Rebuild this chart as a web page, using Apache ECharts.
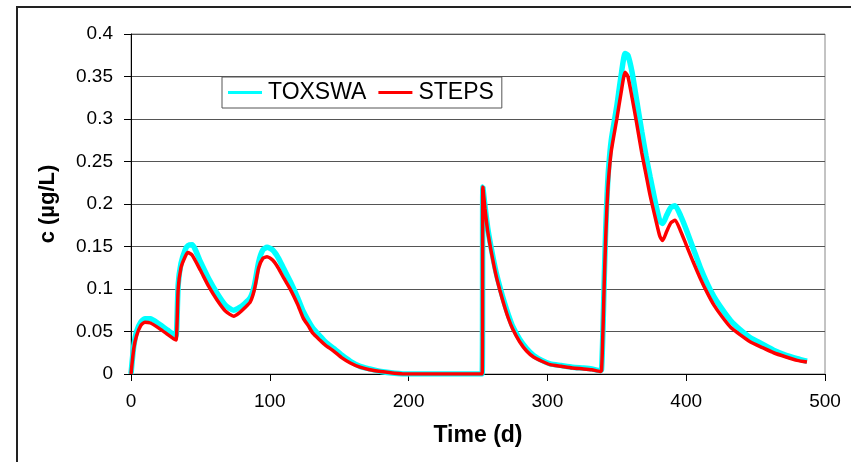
<!DOCTYPE html>
<html>
<head>
<meta charset="utf-8">
<script src="https://cdn.jsdelivr.net/npm/echarts@6/dist/echarts.min.js"></script>
<style>
html,body{margin:0;padding:0;background:#fff;}
#chart{width:851px;height:462px;}
</style>
</head>
<body>
<div id="chart"></div>
<script>
// Time (d)
const days = [
  0,2,4,7,10,14,20,26,31,32.5,
  34,36,39,41,44,50,56,62,68,74,
  78,82,86,89,92,95,98,102,106,110,
  115,120,124,128,131,136,140,146,152,158,
  165,172,180,190,200,220,240,253,253.5,255,
  257,260,263,266,269,272,275,280,285,290,
  296,302,
  310,318,326,332,338,339,340,341,342,343,
  344,346,350,353,356,358,361,364,368,371,
  374,378,381,383,386,389,392,396,400,405,
  410,415,420,426,432,439,446,455,463,472,
  480,487
];
// TOXSWA concentration (µg/L)
const toxswa = [
  0,0.033,0.050,0.061,0.065,0.065,0.059,0.052,0.046,0.045,
  0.105,0.130,0.146,0.151,0.152,0.132,0.112,0.095,0.081,0.075,
  0.078,0.083,0.090,0.105,0.132,0.146,0.149,0.146,0.137,0.124,
  0.108,0.090,0.074,0.062,0.054,0.045,0.038,0.030,0.022,0.015,
  0.009,0.006,0.003,0.001,0,0,0,0,0.220,0.198,
  0.172,0.144,0.120,0.101,0.084,0.069,0.056,0.041,0.030,0.022,
  0.016,0.012,
  0.010,0.008,0.007,0.006,0.004,0.005,0.050,0.115,0.170,0.210,
  0.240,0.275,0.315,0.350,0.377,0.375,0.355,0.325,0.285,0.257,
  0.232,0.200,0.180,0.177,0.187,0.196,0.198,0.186,0.170,0.148,
  0.126,0.107,0.091,0.076,0.063,0.052,0.043,0.035,0.028,0.022,
  0.018,0.015
];
// STEPS concentration (µg/L)
const steps = [
  0,0.030,0.045,0.057,0.061,0.060,0.054,0.047,0.041,0.040,
  0.100,0.125,0.138,0.143,0.140,0.122,0.103,0.087,0.074,0.068,
  0.072,0.078,0.085,0.100,0.125,0.136,0.138,0.134,0.125,0.113,
  0.099,0.082,0.066,0.056,0.048,0.040,0.034,0.027,0.019,0.013,
  0.008,0.005,0.003,0.001,0,0,0,0,0.220,0.195,
  0.168,0.140,0.116,0.097,0.080,0.065,0.053,0.038,0.027,0.020,
  0.015,0.011,
  0.009,0.007,0.006,0.005,0.003,0.004,0.050,0.110,0.160,0.200,
  0.228,0.262,0.300,0.330,0.355,0.350,0.325,0.298,0.260,0.235,
  0.210,0.182,0.162,0.157,0.168,0.178,0.181,0.168,0.152,0.132,
  0.113,0.096,0.081,0.067,0.055,0.046,0.038,0.031,0.025,0.020,
  0.016,0.014
];
const seriesNames = ['TOXSWA','STEPS'];
const xTicks = {min:0, max:500, interval:100};
const yTicks = {min:0, max:0.4, interval:0.05};

const pair = (vals) => days.map((d,i) => [d, vals[i]]);
const font = 'Arial, "Liberation Sans", sans-serif';

const chart = echarts.init(document.getElementById('chart'), null, {renderer:'canvas'});
chart.setOption({
  animation:false,
  backgroundColor:'#fff',
  graphic:[{
    type:'rect', z:-10, silent:true,
    shape:{x:17, y:7, width:900, height:520},
    style:{fill:'none', stroke:'#222', lineWidth:2}
  }],
  grid:{left:131, right:26, top:34, bottom:88, show:true, borderColor:'#888', borderWidth:1, backgroundColor:'transparent'},
  legend:{
    left:222, top:77,
    data:[{name:seriesNames[0], icon:'rect'},{name:seriesNames[1], icon:'rect'}],
    itemWidth:34, itemHeight:3, itemGap:12,
    padding:[4,8,4,6],
    backgroundColor:'#fff', borderColor:'#555', borderWidth:1,
    textStyle:{fontFamily:font, fontSize:23, color:'#000', padding:[0,0,0,1]}
  },
  xAxis:{
    type:'value', min:xTicks.min, max:xTicks.max, interval:xTicks.interval,
    name:'Time (d)', nameLocation:'middle', nameGap:50,
    nameTextStyle:{fontFamily:font, fontSize:23, fontWeight:'bold', color:'#000'},
    axisLine:{show:true, onZero:false, lineStyle:{color:'#000', width:1}},
    axisTick:{show:true, inside:false, length:7, lineStyle:{color:'#000'}},
    axisLabel:{fontFamily:font, fontSize:19, color:'#000', margin:18},
    splitLine:{show:false}
  },
  yAxis:{
    type:'value', min:yTicks.min, max:yTicks.max, interval:yTicks.interval,
    name:'c (µg/L)', nameLocation:'middle', nameGap:72, nameRotate:90,
    nameTextStyle:{fontFamily:font, fontSize:22, fontWeight:'bold', color:'#000'},
    axisLine:{show:true, onZero:false, lineStyle:{color:'#000', width:1}},
    axisTick:{show:true, inside:false, length:7, lineStyle:{color:'#000'}},
    axisLabel:{fontFamily:font, fontSize:19, color:'#000', margin:18},
    splitLine:{show:true, lineStyle:{color:'#555', width:1}}
  },
  series:[
    {name:seriesNames[0], type:'line', data:pair(toxswa), showSymbol:false, symbol:'none',
     smooth:0.2, lineStyle:{color:'#00FFFF', width:5.5}, itemStyle:{color:'#00FFFF'}, z:2},
    {name:seriesNames[1], type:'line', data:pair(steps), showSymbol:false, symbol:'none',
     smooth:0.2, lineStyle:{color:'#FF0000', width:3.5}, itemStyle:{color:'#FF0000'}, z:3}
  ]
});
</script>
</body>
</html>
